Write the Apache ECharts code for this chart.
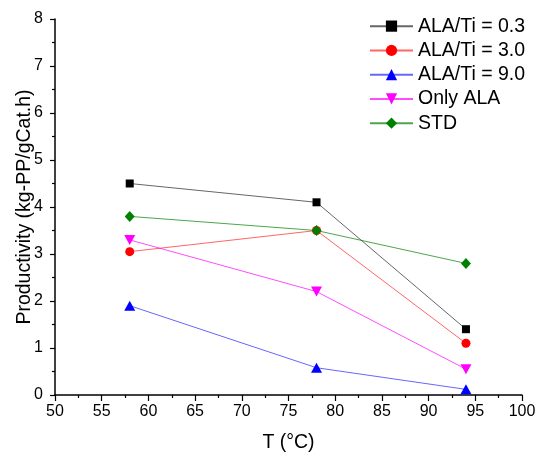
<!DOCTYPE html>
<html>
<head>
<meta charset="utf-8">
<script src="https://cdn.jsdelivr.net/npm/echarts@6/dist/echarts.min.js"></script>
<style>html,body{margin:0;padding:0;background:#fff}#c{width:536px;height:455px}</style>
</head>
<body>
<div id="c"></div>
<script>
const temps = [58, 78, 94];
const seriesNames = ['ALA/Ti = 0.3', 'ALA/Ti = 3.0', 'ALA/Ti = 9.0', 'Only ALA', 'STD'];
const ala03 = [4.5, 4.1, 1.4];
const ala30 = [3.05, 3.5, 1.1];
const ala90 = [1.9, 0.58, 0.12];
const onlyAla = [3.3, 2.2, 0.55];
const std = [3.8, 3.5, 2.8];
const xTitle = 'T (°C)';
const yTitle = 'Productivity (kg-PP/gCat.h)';

const values = [ala03, ala30, ala90, onlyAla, std];
const colors = ['#000000', '#ff0000', '#0000ff', '#ff00ff', '#008000'];
const lineColors = ['rgba(0,0,0,0.6)', 'rgba(255,0,0,0.6)', 'rgba(0,0,255,0.6)', 'rgba(255,0,255,0.7)', 'rgba(0,128,0,0.7)'];
const symbols = ['rect', 'circle', 'triangle', 'path://M0,0 L10,0 L5,9 Z', 'diamond'];
const sizes = [8, 9, [11, 10], [11, 10], [10, 11]];

const font = 'Liberation Sans, Arial, sans-serif';
const chart = echarts.init(document.getElementById('c'));
chart.setOption({
  animation: false,
  backgroundColor: '#fff',
  grid: {left: 55, right: 14, top: 19, bottom: 60, containLabel: false, outerBoundsMode: 'none'},
  legend: {
    orient: 'vertical', left: 369, top: 14, padding: 0, itemWidth: 43, itemHeight: 14, itemGap: 0,
    textStyle: {fontFamily: font, fontSize: 19.5, color: '#000', lineHeight: 24.25},
    data: seriesNames
  },
  xAxis: {
    type: 'value', min: 50, max: 100, interval: 5,
    name: xTitle, nameLocation: 'middle', nameGap: 38, nameMoveOverlap: false,
    nameTextStyle: {fontFamily: font, fontSize: 19.5, color: '#000'},
    axisLine: {lineStyle: {color: '#000', width: 1.5}},
    axisTick: {show: true, inside: false, length: 6, lineStyle: {color: '#000', width: 1.2}},
    minorTick: {show: true, splitNumber: 2, length: 3, lineStyle: {color: '#000', width: 1.2}},
    axisLabel: {fontFamily: font, fontSize: 16, color: '#000', margin: 9},
    splitLine: {show: false}
  },
  yAxis: {
    type: 'value', min: 0, max: 8, interval: 1,
    name: yTitle, nameLocation: 'middle', nameGap: 20, nameMoveOverlap: false,
    nameTextStyle: {fontFamily: font, fontSize: 19.5, color: '#000'},
    axisLine: {show: true, lineStyle: {color: '#000', width: 1.5}},
    axisTick: {show: true, inside: false, length: 5, lineStyle: {color: '#000', width: 1.2}},
    minorTick: {show: true, splitNumber: 2, length: 3, lineStyle: {color: '#000', width: 1.2}},
    axisLabel: {fontFamily: font, fontSize: 16, color: '#000', margin: 12},
    splitLine: {show: false}
  },
  series: seriesNames.map((n, i) => ({
    name: n, type: 'line',
    data: temps.map((t, j) => [t, values[i][j]]),
    symbol: symbols[i], symbolSize: sizes[i],
    itemStyle: {color: colors[i]},
    lineStyle: {color: lineColors[i], width: 1},
    z: i === 4 ? 3 : 2
  }))
});
</script>
</body>
</html>
